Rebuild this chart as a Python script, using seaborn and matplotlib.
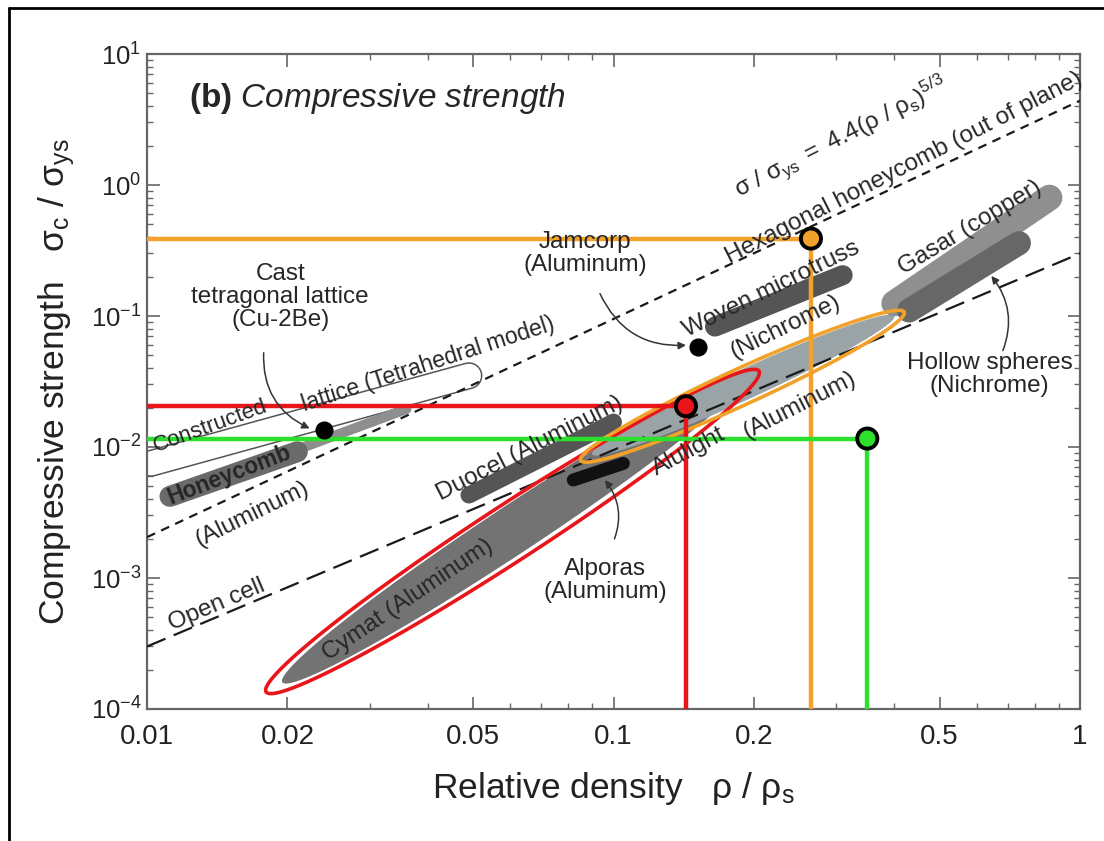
import numpy as np
import matplotlib
matplotlib.use("Agg")
import matplotlib.pyplot as plt
import matplotlib.patheffects as pe
from matplotlib.lines import Line2D
import seaborn as sns

# ---------------------------------------------------------------
# values (relative density vs rel. strength)
# ---------------------------------------------------------------
x_range = (0.01, 1.0)
y_range = (1e-4, 10.0)
xtick_vals = [0.01, 0.02, 0.05, 0.1, 0.2, 0.5, 1]
xtick_text = ['0.01', '0.02', '0.05', '0.1', '0.2', '0.5', '1']

# scaling laws (end points at rho/rho_s = 0.01 and 1)
hex_law_x = [0.01, 1.0]
hex_law_y = [0.00205, 4.4]
open_law_x = [0.01, 1.0]
open_law_y = [3.0e-4, 0.3]

# highlighted design points + guide lines
sel_density = [0.265, 0.143, 0.35]
sel_strength = [0.39, 0.0205, 0.0116]
sel_colors = ['#F2A22A', '#E8161B', '#2EE02E']

# single materials (black dots): cast lattice, Jamcorp
dot_density = [0.024, 0.152]
dot_strength = [0.0135, 0.058]

# material bands as (start, end) pairs
honeycomb_x, honeycomb_y = [0.0112, 0.021], [0.0042, 0.0092]
honeytail_x, honeytail_y = [0.018, 0.036], [0.0078, 0.0195]
lattice_x, lattice_y = [0.0102, 0.049], [0.0075, 0.035]
duocel_x, duocel_y = [0.049, 0.10], [0.0043, 0.0155]
alporas_x, alporas_y = [0.082, 0.105], [0.0056, 0.0075]
woven_x, woven_y = [0.165, 0.31], [0.083, 0.205]
gasar_x, gasar_y = [0.40, 0.86], [0.125, 0.80]
hollow_x, hollow_y = [0.43, 0.74], [0.11, 0.36]

# elongated envelopes (start, end)
cymat_x, cymat_y = [0.0195, 0.19], [1.6e-4, 0.034]
cymat_env_x, cymat_env_y = [0.018, 0.205], [1.35e-4, 0.038]
alulight_x, alulight_y = [0.09, 0.40], [0.0088, 0.10]
alulight_env_x, alulight_env_y = [0.085, 0.42], [0.0079, 0.107]

# ---------------------------------------------------------------
sns.set_theme(style='ticks')
plt.rcParams['font.family'] = ['Liberation Sans', 'DejaVu Sans']
plt.rcParams['mathtext.fontset'] = 'custom'
plt.rcParams['mathtext.rm'] = 'Liberation Sans'
plt.rcParams['mathtext.it'] = 'Liberation Sans:italic'
plt.rcParams['mathtext.bf'] = 'Liberation Sans:bold'

W, H = 1104, 841
fig = plt.figure(figsize=(W / 100, H / 100), dpi=100)
ax = fig.add_axes([147 / W, 1 - 709 / H, (1080 - 147) / W, (709 - 54) / H])
ax.set_xscale('log')
ax.set_yscale('log')
ax.set_xlim(*x_range)
ax.set_ylim(*y_range)

pos = ax.get_position()
SX = pos.width * W / np.log10(x_range[1] / x_range[0])   # px per decade
SY = pos.height * H / np.log10(y_range[1] / y_range[0])


def lens(xs, ys, half):
    """ellipse between two end points, half width in px, back in data units"""
    u = np.log10(xs) * SX
    v = np.log10(ys) * SY
    cu, cv = u.mean(), v.mean()
    a = np.hypot(u[1] - u[0], v[1] - v[0]) / 2
    ang = np.arctan2(v[1] - v[0], u[1] - u[0])
    t = np.linspace(0, 2 * np.pi, 300)
    eu, ev = a * np.cos(t), half * np.sin(t)
    uu = cu + eu * np.cos(ang) - ev * np.sin(ang)
    vv = cv + eu * np.sin(ang) + ev * np.cos(ang)
    return 10 ** (uu / SX), 10 ** (vv / SY)


def band(xs, ys, width_px, color, z=2, **kw):
    ax.plot(xs, ys, color=color, lw=width_px * 0.72, solid_capstyle='round',
            zorder=z, **kw)


# scaling-law lines
sns.lineplot(x=hex_law_x, y=hex_law_y, ax=ax, color='#1a1a1a', lw=1.6,
             zorder=3).lines[-1].set_dashes([4, 3])
sns.lineplot(x=open_law_x, y=open_law_y, ax=ax, color='#1a1a1a', lw=1.6,
             zorder=3).lines[-1].set_dashes([9, 4])

# constructed lattice outline box
band(lattice_x, lattice_y, 24, 'white', z=2.5,
     path_effects=[pe.Stroke(linewidth=24 * 0.72 + 2.2, foreground='#555555'), pe.Normal()])

# gray bands
band(honeytail_x, honeytail_y, 10, '#8e8e8e', z=2.6)
band(honeycomb_x, honeycomb_y, 21, '#6a6a6a', z=2.7)
band(duocel_x, duocel_y, 17, '#555555')
band(woven_x, woven_y, 20, '#555555')
band(gasar_x, gasar_y, 26, '#8f8f8f')
band(hollow_x, hollow_y, 24, '#676767', z=2.1)

# Cymat and Alulight envelopes
cx, cy = lens(np.array(cymat_x), np.array(cymat_y), 24)
ax.fill(cx, cy, color='#737373', zorder=1.5, lw=0)
cx, cy = lens(np.array(cymat_env_x), np.array(cymat_env_y), 28)
ax.plot(cx, cy, color='#E8161B', lw=2.6, zorder=4)
lx, ly = lens(np.array(alulight_x), np.array(alulight_y), 15)
ax.fill(lx, ly, color='#9aa3a6', zorder=1.8, lw=0)
band(alporas_x, alporas_y, 13, '#111111', z=2.2)
lx, ly = lens(np.array(alulight_env_x), np.array(alulight_env_y), 18)
ax.plot(lx, ly, color='#F2A22A', lw=2.6, zorder=4)

# guide lines to the highlighted points
for xd, yd, c in zip(sel_density, sel_strength, sel_colors):
    ax.plot([x_range[0], xd], [yd, yd], color=c, lw=3.2, zorder=5, solid_capstyle='butt')
    ax.plot([xd, xd], [yd, y_range[0]], color=c, lw=3.2, zorder=5, solid_capstyle='butt')

sns.scatterplot(x=sel_density, y=sel_strength, ax=ax, hue=sel_colors,
                palette=dict(zip(sel_colors, sel_colors)), s=210,
                edgecolor='black', linewidth=2.8, legend=False, zorder=6)
sns.scatterplot(x=dot_density, y=dot_strength, ax=ax, color='black', s=170,
                edgecolor='black', linewidth=0, legend=False, zorder=6)

# labels
tc = '#262626'
fs = 17.5
kw = dict(ha='center', va='center', rotation_mode='anchor', color=tc, fontsize=fs, zorder=7)
ax.text(0.0123, 4.6, r'$\bf{(b)}$ $\it{Compressive\ strength}$', ha='left', va='center',
        fontsize=24, color=tc)
ax.text(0.307, 2.3, r'$\mathregular{σ\ /\ σ_{ys}\ =\ 4.4(ρ\ /\ ρ_s)^{5/3}}$', rotation=27, **kw)
ax.text(0.42, 1.35, 'Hexagonal honeycomb (out of plane)', rotation=27, **kw)
ax.text(0.087, 0.30, 'Jamcorp\n(Aluminum)', linespacing=1.05, **kw)
ax.text(0.0193, 0.14, 'Cast\ntetragonal lattice\n(Cu-2Be)', linespacing=1.05, **kw)
ax.text(0.218, 0.16, 'Woven microtruss', rotation=26, **kw)
ax.text(0.234, 0.083, '(Nichrome)', rotation=26, **kw)
ax.text(0.58, 0.47, 'Gasar (copper)', rotation=31, **kw)
ax.text(0.64, 0.036, 'Hollow spheres\n(Nichrome)', linespacing=1.05, **kw)
ax.text(0.0137, 0.0143, 'Constructed', rotation=20, **{**kw, 'fontsize': 16})
ax.text(0.040, 0.043, 'lattice (Tetrahedral model)', rotation=18, **{**kw, 'fontsize': 16.5})
ax.text(0.0150, 0.0061, 'Honeycomb', rotation=21, fontweight='bold', **{**kw, 'fontsize': 16.5})
ax.text(0.0168, 0.0031, '(Aluminum)', rotation=26, **kw)
ax.text(0.0141, 6.2e-4, 'Open cell', rotation=23, **kw)
ax.text(0.066, 0.0098, 'Duocel (Aluminum)', rotation=27, **kw)
ax.text(0.0362, 6.8e-4, 'Cymat (Aluminum)', rotation=34, **kw)
ax.text(0.096, 0.00095, 'Alporas\n(Aluminum)', linespacing=1.05, **kw)
ax.text(0.145, 0.0093, 'Alulight', rotation=28, **kw)
ax.text(0.25, 0.021, '(Aluminum)', rotation=27, **kw)

# curved pointers
arw = dict(arrowstyle='-|>', color='#333333', lw=1.1, mutation_scale=11)
ax.annotate('', xy=(0.0226, 0.0136), xytext=(0.0178, 0.055),
            arrowprops=dict(connectionstyle='arc3,rad=0.35', **arw), zorder=6)
ax.annotate('', xy=(0.145, 0.060), xytext=(0.093, 0.155),
            arrowprops=dict(connectionstyle='arc3,rad=0.35', **arw), zorder=6)
ax.annotate('', xy=(0.64, 0.21), xytext=(0.68, 0.052),
            arrowprops=dict(connectionstyle='arc3,rad=0.3', **arw), zorder=6)
ax.annotate('', xy=(0.095, 0.0058), xytext=(0.10, 0.0019),
            arrowprops=dict(connectionstyle='arc3,rad=0.3', **arw), zorder=6)

# axes styling
ax.set_xticks(xtick_vals)
ax.set_xticklabels(xtick_text)
ax.tick_params(which='both', direction='in', top=True, right=True, color='#666666')
ax.tick_params(which='major', length=9, width=1.2, labelcolor='#222222')
ax.tick_params(which='minor', length=4.5, width=1.0)
ax.tick_params(axis='x', which='major', pad=11, labelsize=20)
ax.tick_params(axis='y', which='major', pad=4, labelsize=18.5)
for s in ax.spines.values():
    s.set_color('#666666')
    s.set_linewidth(1.6)

ax.set_xlabel(r'Relative density   $\mathregular{ρ\ /\ ρ_s}$', fontsize=25.5, color='#222222',
              labelpad=14)
ax.set_ylabel(r'Compressive strength   $\mathregular{σ_c\ /\ σ_{ys}}$', fontsize=25.5,
              color='#222222', labelpad=10)

# black frame remains on top and left of the picture
fig.add_artist(Line2D([9 / W, 9 / W], [0, 1 - 8 / H], transform=fig.transFigure,
                      color='black', lw=2))
fig.add_artist(Line2D([9 / W, 1], [1 - 8 / H, 1 - 8 / H], transform=fig.transFigure,
                      color='black', lw=2))

fig.savefig('out.png', dpi=100)
